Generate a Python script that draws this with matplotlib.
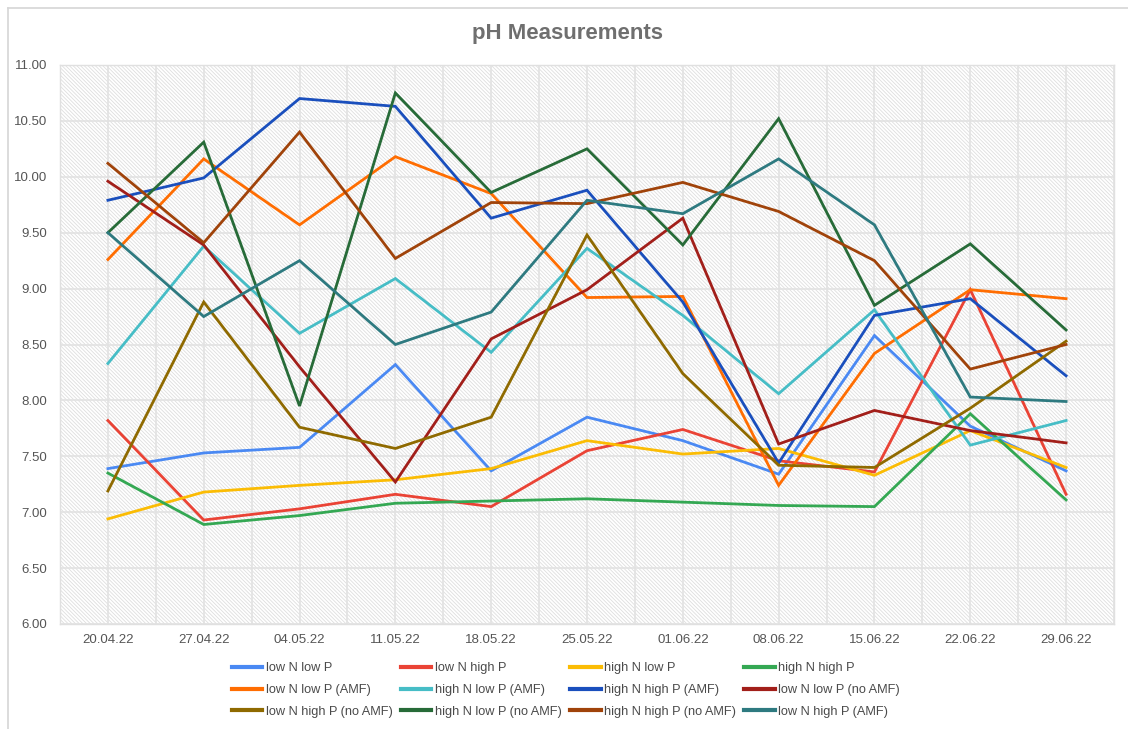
import matplotlib
matplotlib.use("Agg")
import matplotlib.pyplot as plt
from matplotlib.patches import Rectangle
from matplotlib.lines import Line2D
from matplotlib.ticker import FixedLocator

plt.rcParams['font.family'] = ['Liberation Sans', 'DejaVu Sans']
plt.rcParams['hatch.linewidth'] = 0.6

dates = ["20.04.22", "27.04.22", "04.05.22", "11.05.22", "18.05.22", "25.05.22",
         "01.06.22", "08.06.22", "15.06.22", "22.06.22", "29.06.22"]

low_n_low_p = [7.39, 7.53, 7.58, 8.32, 7.37, 7.85, 7.64, 7.34, 8.58, 7.77, 7.37]
low_n_high_p = [7.82, 6.93, 7.03, 7.16, 7.05, 7.55, 7.74, 7.46, 7.36, 8.99, 7.16]
high_n_low_p = [6.94, 7.18, 7.24, 7.29, 7.39, 7.64, 7.52, 7.57, 7.33, 7.73, 7.40]
high_n_high_p = [7.35, 6.89, 6.97, 7.08, 7.10, 7.12, 7.09, 7.06, 7.05, 7.88, 7.11]
low_n_low_p_amf = [9.26, 10.16, 9.57, 10.18, 9.85, 8.92, 8.93, 7.24, 8.42, 8.99, 8.91]
high_n_low_p_amf = [8.33, 9.38, 8.60, 9.09, 8.43, 9.36, 8.76, 8.06, 8.81, 7.60, 7.82]
high_n_high_p_amf = [9.79, 9.99, 10.70, 10.63, 9.63, 9.88, 8.88, 7.44, 8.76, 8.91, 8.22]
low_n_low_p_noamf = [9.96, 9.39, 8.30, 7.27, 8.55, 8.99, 9.63, 7.61, 7.91, 7.73, 7.62]
low_n_high_p_noamf = [7.19, 8.88, 7.76, 7.57, 7.85, 9.48, 8.24, 7.42, 7.40, 7.93, 8.53]
high_n_low_p_noamf = [9.50, 10.31, 7.95, 10.75, 9.86, 10.25, 9.39, 10.52, 8.85, 9.40, 8.63]
high_n_high_p_noamf = [10.12, 9.41, 10.40, 9.27, 9.77, 9.76, 9.95, 9.69, 9.25, 8.28, 8.50]
low_n_high_p_amf = [9.50, 8.75, 9.25, 8.50, 8.79, 9.79, 9.67, 10.16, 9.57, 8.03, 7.99]

series_names = ["low N low P", "low N high P", "high N low P", "high N high P",
                "low N low P (AMF)", "high N low P (AMF)", "high N high P (AMF)",
                "low N low P (no AMF)", "low N high P (no AMF)", "high N low P (no AMF)",
                "high N high P (no AMF)", "low N high P (AMF)"]
series_values = [low_n_low_p, low_n_high_p, high_n_low_p, high_n_high_p,
                 low_n_low_p_amf, high_n_low_p_amf, high_n_high_p_amf,
                 low_n_low_p_noamf, low_n_high_p_noamf, high_n_low_p_noamf,
                 high_n_high_p_noamf, low_n_high_p_amf]
colors = ["#4a89f3", "#ea4335", "#fbbc04", "#34a853", "#ff6d01", "#46bdc6",
          "#1a4fbd", "#a21f1a", "#8f6a00", "#276b38", "#a0430a", "#2e7a80"]

fig = plt.figure(figsize=(11.28, 7.29), dpi=100)
W, H = 1128, 729
ax = fig.add_axes([60 / W, 1 - 624 / H, (1114 - 60) / W, (624 - 65) / H])

# hatched background
ax.set_facecolor("white")
bg = Rectangle((0, 0), 1, 1, transform=ax.transAxes, facecolor="white",
               edgecolor="#dedede", hatch="\\" * 9, lw=0, zorder=0)
ax.add_patch(bg)

x = list(range(len(dates)))
for name, vals, c in zip(series_names, series_values, colors):
    ax.plot(x, vals, color=c, lw=2.0, label=name, zorder=3, solid_joinstyle="miter")

ax.set_xlim(-0.5, len(dates) - 0.5)
ax.set_ylim(6.0, 11.0)
ax.set_xticks(x)
ax.set_xticklabels(dates)
ax.xaxis.set_minor_locator(FixedLocator([i - 0.5 for i in range(len(dates) + 1)]))
yt = [6.0 + 0.5 * i for i in range(11)]
ax.set_yticks(yt)
ax.set_yticklabels([f"{v:.2f}" for v in yt])
ax.tick_params(axis="both", which="both", length=0, labelsize=9.5, labelcolor="#555555")
ax.tick_params(axis="x", pad=7)
ax.tick_params(axis="y", pad=9)
ax.grid(True, which="major", color="#e2e2e2", lw=1.2)
ax.grid(True, which="minor", axis="x", color="#e2e2e2", lw=1.2)
ax.set_axisbelow(True)
for s in ax.spines.values():
    s.set_color("#e0e0e0")
    s.set_linewidth(1.0)

fig.text(568 / W, 1 - 34 / H, "pH Measurements", ha="center", va="center",
         fontsize=16, fontweight="bold", color="#6f6f6f")

handles, labels = ax.get_legend_handles_labels()
order = [0, 4, 8, 1, 5, 9, 2, 6, 10, 3, 7, 11]
leg = fig.legend([handles[i] for i in order], [labels[i] for i in order],
                 loc="center", bbox_to_anchor=(566 / W, 1 - 690 / H), ncol=4,
                 frameon=False, fontsize=9.2, handlelength=2.4, handletextpad=0.3,
                 columnspacing=0.6, labelspacing=0.75, labelcolor="#4a4a4a")
for lh in leg.get_lines():
    lh.set_linewidth(3)

# outer container border
fig.add_artist(Line2D([8 / W, 8 / W], [0, 1 - 8 / H], transform=fig.transFigure,
                      color="#d6d6d6", lw=1.2))
fig.add_artist(Line2D([8 / W, 1], [1 - 8 / H, 1 - 8 / H], transform=fig.transFigure,
                      color="#d6d6d6", lw=1.2))

fig.savefig("out.png", dpi=100)
